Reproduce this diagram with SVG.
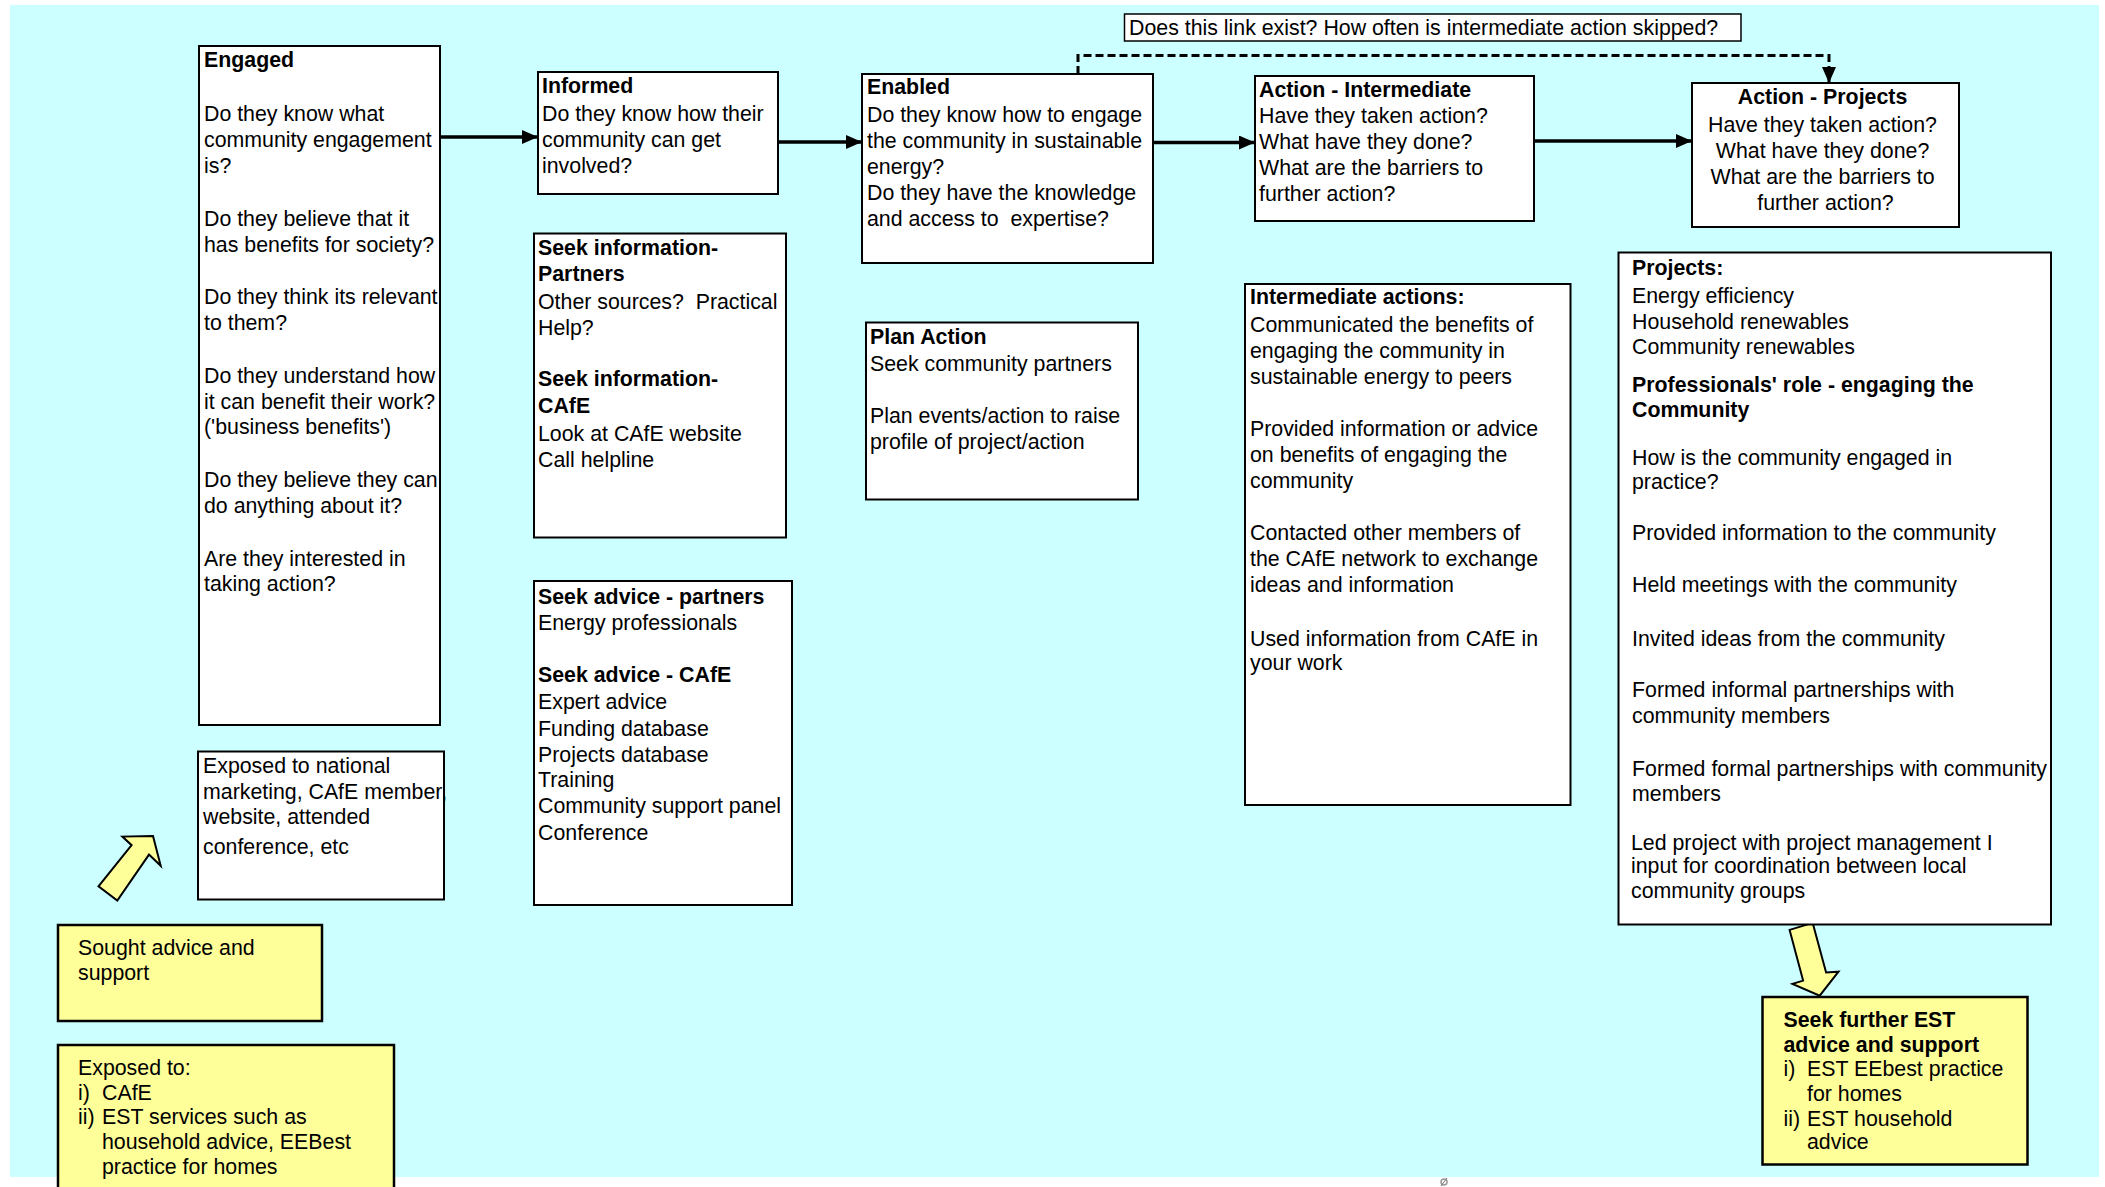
<svg xmlns="http://www.w3.org/2000/svg" width="2105" height="1187" viewBox="0 0 2105 1187">
<defs>
<style>
text{font-family:"Liberation Sans",Arial,sans-serif;font-size:21.33px;fill:#000}
.b{font-weight:bold}
.box{fill:#fff;stroke:#000;stroke-width:2}
.ybox{fill:#ffff99;stroke:#000;stroke-width:2.5}
.con{fill:none;stroke:#000;stroke-width:3.3}
.dash{fill:none;stroke:#000;stroke-width:3;stroke-dasharray:8 4}
.blk{fill:#ffff99;stroke:#000;stroke-width:2;stroke-linejoin:miter}
</style>
<marker id="ah" markerUnits="userSpaceOnUse" markerWidth="17" markerHeight="14" refX="16" refY="7" orient="auto">
<path d="M0,0 L16,7 L0,14 z" fill="#000"/>
</marker>
</defs>
<rect x="0" y="0" width="2105" height="1187" fill="#fff"/>
<rect x="10" y="5" width="2089" height="1172" fill="#ccffff"/>

<g id="connectors">
<line class="con" x1="440" y1="137" x2="538" y2="137" marker-end="url(#ah)"/>
<line class="con" x1="778" y1="142" x2="862" y2="142" marker-end="url(#ah)"/>
<line class="con" x1="1153" y1="142.5" x2="1255" y2="142.5" marker-end="url(#ah)"/>
<line class="con" x1="1534" y1="141" x2="1692" y2="141" marker-end="url(#ah)"/>
<path class="dash" d="M1078,74 V55.5 H1829 V83" marker-end="url(#ah)"/>
<polygon class="blk" points="153,836 122.4,836.6 131.6,845.2 98.5,886.4 117.3,900.6 149,854.6 160.7,865.8"/>
<polygon class="blk" points="1789.6,929.9 1812.7,922.9 1826.1,972.5 1838.5,971.7 1819.7,995.7 1792.5,983.9 1803.1,980.6"/>
</g>

<g id="question">
<rect x="1124.5" y="14" width="616.5" height="27" fill="#fff" stroke="#000" stroke-width="1.5"/>
<text x="1129" y="35">Does this link exist? How often is intermediate action skipped?</text>
</g>

<g id="engaged">
<rect class="box" x="199" y="46" width="241" height="679"/>
<text x="204">
<tspan class="b" x="204" y="67">Engaged</tspan>
<tspan x="204" y="120.5">Do they know what</tspan>
<tspan x="204" y="147">community engagement</tspan>
<tspan x="204" y="173">is?</tspan>
<tspan x="204" y="226">Do they believe that it</tspan>
<tspan x="204" y="252">has benefits for society?</tspan>
<tspan x="204" y="304">Do they think its relevant</tspan>
<tspan x="204" y="330">to them?</tspan>
<tspan x="204" y="383">Do they understand how</tspan>
<tspan x="204" y="409">it can benefit their work?</tspan>
<tspan x="204" y="434">('business benefits')</tspan>
<tspan x="204" y="487">Do they believe they can</tspan>
<tspan x="204" y="513">do anything about it?</tspan>
<tspan x="204" y="566">Are they interested in</tspan>
<tspan x="204" y="591">taking action?</tspan>
</text>
</g>

<g id="informed">
<rect class="box" x="538" y="72" width="240" height="122"/>
<text>
<tspan class="b" x="542" y="93">Informed</tspan>
<tspan x="542" y="120.5">Do they know how their</tspan>
<tspan x="542" y="147">community can get</tspan>
<tspan x="542" y="173">involved?</tspan>
</text>
</g>

<g id="seek-information">
<rect class="box" x="534" y="233.5" width="252" height="304"/>
<text xml:space="preserve">
<tspan class="b" x="538" y="254.5">Seek information-</tspan>
<tspan class="b" x="538" y="281">Partners</tspan>
<tspan x="538" y="309">Other sources?  Practical</tspan>
<tspan x="538" y="335">Help?</tspan>
<tspan class="b" x="538" y="386">Seek information-</tspan>
<tspan class="b" x="538" y="413">CAfE</tspan>
<tspan x="538" y="441">Look at CAfE website</tspan>
<tspan x="538" y="467">Call helpline</tspan>
</text>
</g>

<g id="seek-advice">
<rect class="box" x="534" y="581" width="258" height="324"/>
<text>
<tspan class="b" x="538" y="604">Seek advice - partners</tspan>
<tspan x="538" y="630">Energy professionals</tspan>
<tspan class="b" x="538" y="682">Seek advice - CAfE</tspan>
<tspan x="538" y="709">Expert advice</tspan>
<tspan x="538" y="735.5">Funding database</tspan>
<tspan x="538" y="761.5">Projects database</tspan>
<tspan x="538" y="787">Training</tspan>
<tspan x="538" y="813">Community support panel</tspan>
<tspan x="538" y="839.5">Conference</tspan>
</text>
</g>

<g id="exposed-national">
<rect class="box" x="198" y="751.5" width="246" height="148"/>
<text>
<tspan x="203" y="773">Exposed to national</tspan>
<tspan x="203" y="798.5">marketing, CAfE member,</tspan>
<tspan x="203" y="824">website, attended</tspan>
<tspan x="203" y="854">conference, etc</tspan>
</text>
</g>

<g id="sought-advice">
<rect class="ybox" x="58" y="925" width="264" height="96"/>
<text>
<tspan x="78" y="955">Sought advice and</tspan>
<tspan x="78" y="980">support</tspan>
</text>
</g>

<g id="exposed-to">
<rect class="ybox" x="58" y="1045" width="336" height="160"/>
<text>
<tspan x="78" y="1075">Exposed to:</tspan>
<tspan x="78" y="1100">i)</tspan><tspan x="102" y="1100">CAfE</tspan>
<tspan x="78" y="1124">ii)</tspan><tspan x="102" y="1124">EST services such as</tspan>
<tspan x="102" y="1148.5">household advice, EEBest</tspan>
<tspan x="102" y="1173.5">practice for homes</tspan>
</text>
</g>

<g id="enabled">
<rect class="box" x="862" y="74" width="291" height="189"/>
<text xml:space="preserve">
<tspan class="b" x="867" y="94">Enabled</tspan>
<tspan x="867" y="122">Do they know how to engage</tspan>
<tspan x="867" y="147.5">the community in sustainable</tspan>
<tspan x="867" y="173.5">energy?</tspan>
<tspan x="867" y="200">Do they have the knowledge</tspan>
<tspan x="867" y="226">and access to  expertise?</tspan>
</text>
</g>

<g id="plan-action">
<rect class="box" x="866" y="322.5" width="272" height="177"/>
<text>
<tspan class="b" x="870" y="344">Plan Action</tspan>
<tspan x="870" y="370.5">Seek community partners</tspan>
<tspan x="870" y="423">Plan events/action to raise</tspan>
<tspan x="870" y="448.5">profile of project/action</tspan>
</text>
</g>

<g id="action-intermediate">
<rect class="box" x="1255" y="76" width="279" height="145"/>
<text>
<tspan class="b" x="1259" y="96.5">Action - Intermediate</tspan>
<tspan x="1259" y="123">Have they taken action?</tspan>
<tspan x="1259" y="149">What have they done?</tspan>
<tspan x="1259" y="175">What are the barriers to</tspan>
<tspan x="1259" y="201">further action?</tspan>
</text>
</g>

<g id="intermediate-actions">
<rect class="box" x="1245" y="284" width="325.5" height="521"/>
<text>
<tspan class="b" x="1250" y="304">Intermediate actions:</tspan>
<tspan x="1250" y="331.5">Communicated the benefits of</tspan>
<tspan x="1250" y="358">engaging the community in</tspan>
<tspan x="1250" y="384">sustainable energy to peers</tspan>
<tspan x="1250" y="436">Provided information or advice</tspan>
<tspan x="1250" y="462">on benefits of engaging the</tspan>
<tspan x="1250" y="488">community</tspan>
<tspan x="1250" y="540">Contacted other members of</tspan>
<tspan x="1250" y="566">the CAfE network to exchange</tspan>
<tspan x="1250" y="591.5">ideas and information</tspan>
<tspan x="1250" y="645.5">Used information from CAfE in</tspan>
<tspan x="1250" y="670">your work</tspan>
</text>
</g>

<g id="action-projects">
<rect class="box" x="1692" y="83" width="267" height="144"/>
<text text-anchor="middle">
<tspan class="b" x="1825.5" y="104">Action - Projects</tspan>
<tspan x="1825.5" y="132">Have they taken action?</tspan>
<tspan x="1825.5" y="158">What have they done?</tspan>
<tspan x="1825.5" y="184">What are the barriers to</tspan>
<tspan x="1825.5" y="210">further action?</tspan>
</text>
</g>

<g id="projects">
<rect class="box" x="1618.5" y="252.5" width="432.5" height="672"/>
<text>
<tspan class="b" x="1632" y="275">Projects:</tspan>
<tspan x="1632" y="303">Energy efficiency</tspan>
<tspan x="1632" y="328.5">Household renewables</tspan>
<tspan x="1632" y="354">Community renewables</tspan>
<tspan class="b" x="1632" y="392">Professionals' role - engaging the</tspan>
<tspan class="b" x="1632" y="417">Community</tspan>
<tspan x="1632" y="465">How is the community engaged in</tspan>
<tspan x="1632" y="489">practice?</tspan>
<tspan x="1632" y="540">Provided information to the community</tspan>
<tspan x="1632" y="592">Held meetings with the community</tspan>
<tspan x="1632" y="645.5">Invited ideas from the community</tspan>
<tspan x="1632" y="696.5">Formed informal partnerships with</tspan>
<tspan x="1632" y="723">community members</tspan>
<tspan x="1632" y="775.5">Formed formal partnerships with community</tspan>
<tspan x="1632" y="800.5">members</tspan>
<tspan x="1631" y="849.5">Led project with project management I</tspan>
<tspan x="1631" y="873">input for coordination between local</tspan>
<tspan x="1631" y="898">community groups</tspan>
</text>
</g>

<g id="seek-further">
<rect class="ybox" x="1762.5" y="997" width="265" height="167.5"/>
<text>
<tspan class="b" x="1783.5" y="1026.5">Seek further EST</tspan>
<tspan class="b" x="1783.5" y="1051.5">advice and support</tspan>
<tspan x="1783.5" y="1076">i)</tspan><tspan x="1807" y="1076">EST EEbest practice</tspan>
<tspan x="1807" y="1100.5">for homes</tspan>
<tspan x="1783.5" y="1126">ii)</tspan><tspan x="1807" y="1126">EST household</tspan>
<tspan x="1807" y="1149">advice</tspan>
</text>
</g>

<g id="mark">
<circle cx="1444" cy="1182" r="3" fill="none" stroke="#999" stroke-width="1.5"/>
<line x1="1441" y1="1186" x2="1447" y2="1178" stroke="#777" stroke-width="1"/>
</g>
</svg>
